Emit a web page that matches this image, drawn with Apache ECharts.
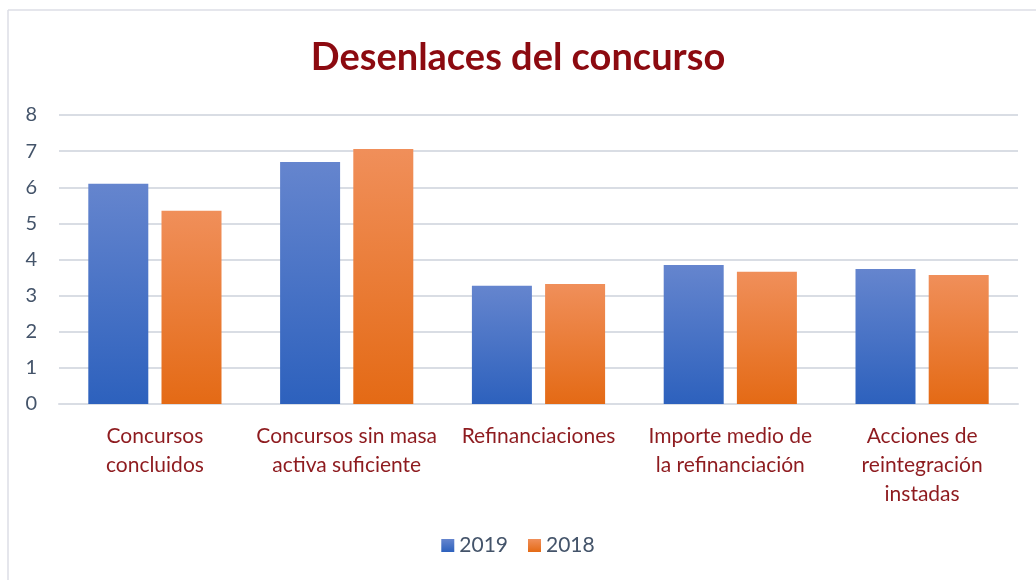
<!DOCTYPE html>
<html>
<head>
<meta charset="utf-8">
<script src="https://cdn.jsdelivr.net/npm/echarts@6/dist/echarts.min.js"></script>
<style>
  html, body { margin: 0; padding: 0; background: #fff; }
  #mainChart { width: 1036px; height: 580px; }
</style>
</head>
<body>
<div id="mainChart"></div>
<script>
// categorias y valores
var categories = [
  'Concursos\nconcluidos',
  'Concursos sin masa\nactiva suficiente',
  'Refinanciaciones',
  'Importe medio de\nla refinanciación',
  'Acciones de\nreintegración\ninstadas'
];
var values2019 = [6.1, 6.7, 3.27, 3.85, 3.74];
var values2018 = [5.35, 7.06, 3.32, 3.66, 3.57];
var yTicks = [0, 1, 2, 3, 4, 5, 6, 7, 8];

var font = 'Lato, "Open Sans", sans-serif';

function grad(top, bottom) {
  return new echarts.graphic.LinearGradient(0, 0, 0, 1, [
    { offset: 0, color: top },
    { offset: 1, color: bottom }
  ]);
}

var myChart = echarts.init(document.getElementById('mainChart'));

var option = {
  animation: false,
  textStyle: { fontFamily: font },
  title: {
    text: 'Desenlaces del concurso',
    left: 'center',
    top: 34,
    textStyle: { fontFamily: font, fontSize: 38, fontWeight: 'bold', color: '#8C0A10' }
  },
  graphic: [
    { type: 'line', shape: { x1: 8, y1: 10, x2: 1036, y2: 10 }, style: { stroke: '#DCDEE6', lineWidth: 1.5 } },
    { type: 'line', shape: { x1: 8, y1: 10, x2: 8, y2: 580 }, style: { stroke: '#DCDEE6', lineWidth: 1.5 } }
  ],
  legend: {
    bottom: 19,
    left: 'center',
    itemWidth: 13,
    itemHeight: 13,
    itemGap: 20,
    icon: 'rect',
    textStyle: { fontFamily: font, fontSize: 21, color: '#44546A' },
    data: ['2019', '2018']
  },
  grid: { left: 59, right: 18, top: 115, bottom: 176 },
  xAxis: {
    type: 'category',
    data: categories,
    axisLine: { show: true, lineStyle: { color: '#D9DDE4', width: 2 } },
    axisTick: { show: false },
    axisLabel: {
      interval: 0,
      margin: 18,
      lineHeight: 29,
      fontFamily: font,
      fontSize: 21,
      color: '#8E1B1F'
    }
  },
  yAxis: {
    type: 'value',
    min: yTicks[0],
    max: yTicks[yTicks.length - 1],
    interval: 1,
    axisLine: { show: false },
    axisTick: { show: false },
    splitLine: { lineStyle: { color: '#D9DDE4', width: 2 } },
    axisLabel: { margin: 22, fontFamily: font, fontSize: 20, color: '#44546A' }
  },
  series: [
    {
      name: '2019',
      type: 'bar',
      data: values2019,
      barWidth: 60,
      barGap: '22%',
      itemStyle: { color: grad('#6585CE', '#2D61BD') }
    },
    {
      name: '2018',
      type: 'bar',
      data: values2018,
      barWidth: 60,
      itemStyle: { color: grad('#F08F5A', '#E46A15') }
    }
  ]
};

myChart.setOption(option);
</script>
</body>
</html>
